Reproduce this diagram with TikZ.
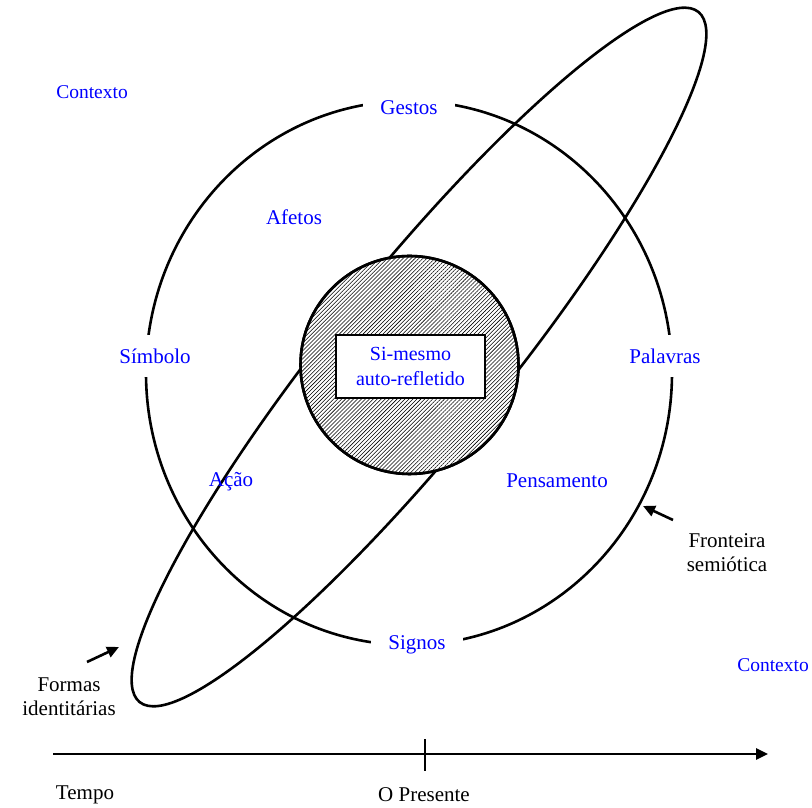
\documentclass[tikz,border=0pt]{standalone}
\usepackage{fontspec}
\setmainfont{Liberation Serif}
\usetikzlibrary{arrows.meta,patterns.meta}
\definecolor{lblue}{RGB}{0,0,255}
\tikzset{
  thickline/.style={line width=2.6pt},
  lbl/.style={text=lblue,font=\fontsize{21}{25}\selectfont,inner sep=1pt},
  rimlbl/.style={lbl,fill=white,inner xsep=17pt,inner ysep=14pt},
  ctx/.style={text=lblue,font=\fontsize{19.5}{23}\selectfont,inner sep=1pt},
  blk/.style={text=black,font=\fontsize{21}{24}\selectfont,align=center,inner sep=1pt},
  pointer/.style={line width=2.6pt,-{Triangle[length=12pt,width=11pt]}}
}
\begin{document}
\begin{tikzpicture}[x=1pt,y=1pt]
\useasboundingbox (0,0) rectangle (812,808);
% identity ellipse
\draw[thickline,rotate around={51:(419,451)}] (419,451) ellipse [x radius=444, y radius=86];
% semiotic boundary
\draw[thickline] (409,435) ellipse [x radius=263, y radius=272];
% self
\node[circle,draw,thickline,minimum size=218pt,inner sep=0pt,fill=white] (selfc) at (409.5,443) {};
\fill[pattern={Lines[angle=45,distance=2.8pt,line width=0.55pt]}] (409.5,443) circle [radius=108];
\draw[thickline] (409.5,443) circle [radius=109];
\node[draw,thickline,fill=white,minimum width=149pt,minimum height=63pt,inner sep=0pt] (selfbox) at (410.5,441.5) {};
\node[lbl,align=center,font=\fontsize{20}{25}\selectfont] (selftxt) at (410.5,442) {Si-mesmo\\auto-refletido};
% labels
\node[ctx] (ctx1) at (92,716) {Contexto};
\node[ctx] (ctx2) at (773,143) {Contexto};
\node[rimlbl] (gestos) at (409,700) {Gestos};
\node[lbl] (afetos) at (294,591) {Afetos};
\node[rimlbl] (simbolo) at (155,452) {Símbolo};
\node[rimlbl] (palavras) at (665,452) {Palavras};
\node[lbl] (acao) at (231,326) {Ação};
\node[lbl] (pens) at (557,327) {Pensamento};
\node[rimlbl] (signos) at (417,163) {Signos};
\node[blk] (front) at (727,255) {Fronteira\\semiótica};
\node[blk] (formas) at (69,111) {Formas\\identitárias};
\node[blk] (tempo) at (85,13) {Tempo};
\node[blk] (pres) at (424,13) {O Presente};
% pointers
\coordinate (fa) at (673,288);
\coordinate (fb) at (643,302);
\draw[pointer] (fa) -- (fb);
\coordinate (ia) at (87,146);
\coordinate (ib) at (119,161);
\draw[pointer] (ia) -- (ib);
% time axis
\coordinate (t0) at (53,54);
\coordinate (t1) at (768,54);
\coordinate (p0) at (425,37);
\coordinate (p1) at (425,69);
\draw[line width=2.6pt,-{Triangle[length=12pt,width=11pt]}] (t0) -- (t1);
\draw[line width=2.6pt] (p0) -- (p1);
\end{tikzpicture}
\end{document}
